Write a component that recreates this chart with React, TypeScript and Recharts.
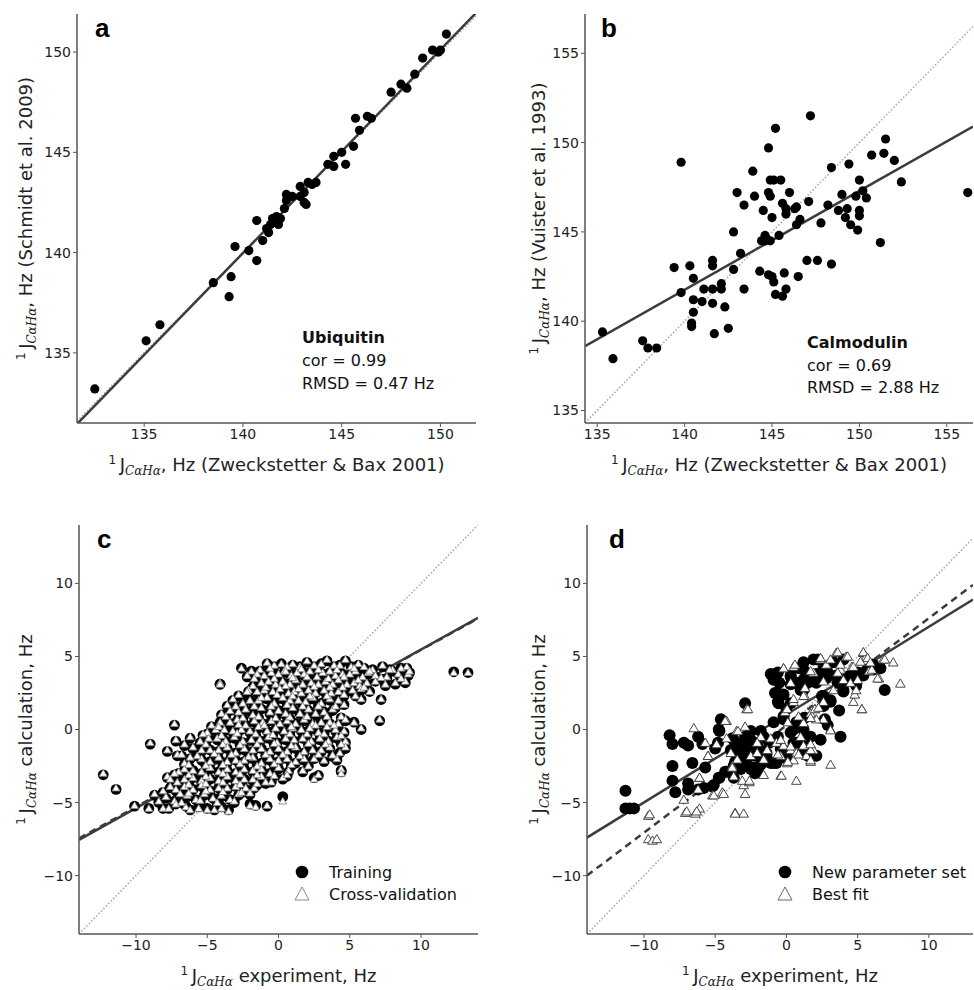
import React from 'react'
import { ScatterChart, Scatter, XAxis, YAxis, ReferenceLine } from 'recharts'

// ---- panel a: Ubiquitin, Schmidt 2009 vs Zweckstetter & Bax 2001
const aTicks = [135, 140, 145, 150]
const aPoints: [number, number][] = [
  [132.5, 133.2], [135.1, 135.6], [135.8, 136.4], [138.5, 138.5], [139.3, 137.8], [139.4, 138.8],
  [139.6, 140.3], [140.3, 140.1], [140.7, 139.6], [140.7, 141.6], [141.0, 140.6], [141.2, 141.2],
  [141.3, 141.0], [141.4, 141.4], [141.5, 141.7], [141.6, 141.5], [141.7, 141.8], [141.8, 141.4],
  [141.9, 141.7], [142.1, 142.2], [142.2, 142.6], [142.2, 142.9], [142.5, 142.8], [142.9, 142.8],
  [142.9, 143.3], [143.1, 142.5], [143.2, 142.4], [143.1, 143.0], [143.3, 143.5], [143.5, 143.4],
  [143.7, 143.5], [144.3, 144.4], [144.6, 144.8], [144.6, 144.3], [145.0, 145.0], [145.2, 144.4],
  [145.6, 145.3], [145.7, 146.7], [145.9, 146.1], [146.3, 146.8], [146.5, 146.7], [147.5, 148.0],
  [148.0, 148.4], [148.3, 148.2], [148.7, 148.9], [149.1, 149.7], [149.6, 150.1], [149.9, 150.0],
  [150.0, 150.1], [150.3, 150.9],
]
const aFit: [number, number][] = [[131.6, 131.45], [151.8, 151.95]]
const aDiag: [number, number][] = [[131.6, 131.6], [151.8, 151.8]]

// ---- panel b: Calmodulin, Vuister 1993 vs Zweckstetter & Bax 2001
const bTicks = [135, 140, 145, 150, 155]
const bPoints: [number, number][] = [
  [135.3, 139.4], [135.9, 137.9], [137.6, 138.9], [137.9, 138.5], [138.4, 138.5], [139.4, 143.0],
  [139.8, 148.9], [139.8, 141.6], [140.3, 143.1], [140.5, 142.4], [140.5, 141.2], [140.5, 140.5],
  [140.4, 139.9], [140.4, 139.7], [141.0, 141.1], [141.1, 141.8], [141.6, 143.4], [141.6, 143.1],
  [141.6, 141.8], [141.6, 141.0], [141.7, 139.3], [142.1, 142.1], [142.1, 141.8], [142.3, 140.8],
  [142.5, 139.6], [142.8, 142.9], [142.8, 145.0], [143.0, 147.2], [143.2, 143.8], [143.4, 146.5],
  [143.4, 141.8], [143.9, 148.4], [144.0, 147.0], [144.3, 142.8], [144.5, 146.2], [144.4, 144.5],
  [144.6, 144.8], [144.6, 144.5], [144.7, 144.6], [144.8, 147.2], [144.8, 149.7], [144.9, 147.9],
  [144.9, 147.0], [144.8, 142.6], [144.9, 144.5], [145.0, 145.8], [145.0, 142.5], [145.1, 142.2],
  [145.1, 147.9], [145.2, 150.8], [145.2, 141.5], [145.4, 144.8], [145.5, 147.9], [145.6, 146.6],
  [145.6, 141.4], [145.7, 142.7], [145.8, 146.3], [145.8, 146.0], [145.8, 141.8], [146.0, 147.2],
  [146.3, 146.3], [146.4, 146.4], [146.4, 145.4], [146.5, 142.5], [146.6, 145.7], [147.0, 143.4],
  [147.1, 146.7], [147.2, 151.5], [147.6, 143.4], [147.8, 145.5], [148.2, 146.5], [148.4, 148.6],
  [148.4, 143.2], [148.8, 146.2], [149.0, 147.1], [149.2, 145.8], [149.3, 146.3], [149.4, 148.8],
  [149.5, 145.4], [149.8, 147.0], [149.9, 145.1], [150.0, 147.9], [150.0, 146.2], [150.0, 145.9],
  [150.2, 147.3], [150.4, 146.9], [150.7, 149.3], [151.2, 144.4], [151.4, 149.4], [151.5, 150.2],
  [152.0, 149.0], [152.4, 147.8], [156.2, 147.2],
]
const bFit: [number, number][] = [[134.3, 138.6], [156.5, 150.9]]
const bDiag: [number, number][] = [[134.3, 134.3], [156.5, 156.5]]

// ---- panel c: [experiment, training calc, cross-validation calc]
const cdTicks = [-10, -5, 0, 5, 10]
const cResidues: [number, number, number][] = [
  [-1.3, 4.0, 4.1], [-0.8, 4.5, 4.6], [-0.3, 4.3, 4.4], [0.2, 4.5, 4.5], [0.6, 4.2, 4.3], [1.0, 4.4, 4.5],
  [1.5, 4.3, 4.3], [2.0, 4.6, 4.7], [2.5, 4.3, 4.4], [3.0, 4.5, 4.5], [3.4, 4.7, 4.8], [3.9, 4.3, 4.4],
  [4.3, 4.4, 4.4], [4.7, 4.7, 4.8], [5.1, 4.3, 4.3], [5.6, 4.4, 4.5], [6.0, 4.2, 4.3], [6.6, 4.1, 4.1],
  [7.3, 4.3, 4.4], [8.0, 4.0, 4.1], [8.6, 4.2, 4.2], [9.0, 4.2, 4.3], [-2.6, 4.2, 4.2], [-1.9, 4.0, 4.0],
  [-1.5, 3.7, 3.8], [-1.0, 3.6, 3.7], [-0.5, 3.9, 3.9], [0.0, 3.7, 3.8], [0.4, 3.9, 4.0], [0.9, 3.6, 3.7],
  [1.3, 3.9, 3.9], [1.8, 3.7, 3.8], [2.2, 3.9, 4.0], [2.7, 3.6, 3.6], [3.1, 3.8, 3.9], [3.6, 3.9, 4.0],
  [4.0, 3.6, 3.7], [4.5, 3.8, 3.8], [5.0, 3.7, 3.8], [5.4, 3.9, 4.0], [5.9, 3.6, 3.6], [6.3, 3.8, 3.9],
  [6.8, 3.6, 3.7], [7.6, 3.5, 3.6], [8.4, 3.8, 3.8], [9.1, 3.7, 3.8], [-2.2, 3.6, 3.7],
  [-1.2, 3.1, 3.2], [-0.7, 3.3, 3.3], [-0.2, 3.0, 3.1], [0.3, 3.2, 3.3], [0.8, 3.1, 3.1], [1.2, 3.3, 3.4],
  [1.7, 3.0, 3.1], [2.3, 3.2, 3.2], [2.8, 3.0, 3.1], [3.3, 3.2, 3.3], [3.8, 3.1, 3.1], [4.2, 3.3, 3.4],
  [4.8, 3.0, 3.1], [5.3, 3.2, 3.2], [5.7, 2.9, 3.0], [6.2, 3.1, 3.2], [6.8, 3.3, 3.3], [8.2, 3.1, 3.2],
  [8.9, 3.2, 3.3], [-4.1, 3.1, 3.2],
  [-2.1, 2.6, 2.7], [-1.5, 2.5, 2.6], [-1.0, 2.7, 2.7], [-0.4, 2.5, 2.6], [0.1, 2.7, 2.8], [0.7, 2.4, 2.5],
  [1.1, 2.6, 2.6], [1.6, 2.4, 2.5], [2.1, 2.6, 2.7], [2.6, 2.5, 2.5], [3.2, 2.6, 2.7], [3.7, 2.4, 2.5],
  [4.2, 2.6, 2.6], [5.2, 2.6, 2.7], [5.8, 2.7, 2.8], [6.4, 2.6, 2.6], [-2.2, 2.2, 2.6],
  [-3.6, 1.6, 1.7], [-3.2, 2.0, 2.1], [-2.5, 1.7, 1.8], [-2.0, 2.0, 2.0], [-1.4, 1.9, 2.0], [-0.8, 2.1, 2.2],
  [-0.3, 1.8, 1.8], [0.3, 2.1, 2.2], [0.8, 1.9, 2.0], [1.4, 2.0, 2.0], [1.9, 1.8, 1.9], [2.4, 2.1, 2.2],
  [3.0, 1.8, 1.8], [3.6, 2.0, 2.1], [4.2, 1.9, 2.0], [4.6, 1.7, 1.7], [5.8, 2.05, 2.1], [7.2, 2.05, 2.1],
  [-4.0, 1.0, 1.1], [-3.4, 1.3, 1.3], [-2.8, 1.1, 1.2], [-2.3, 1.3, 1.4], [-1.8, 1.0, 1.0], [-1.2, 1.4, 1.5],
  [-0.6, 1.1, 1.2], [0.0, 1.3, 1.3], [0.5, 1.0, 1.1], [1.0, 1.4, 1.5], [1.5, 1.1, 1.1], [2.1, 1.3, 1.4],
  [2.6, 1.0, 1.1], [3.2, 1.2, 1.2], [3.8, 1.3, 1.4], [4.4, 0.8, 0.9],
  [-4.7, 0.2, 0.3], [-4.1, 0.5, 0.5], [-3.4, 0.4, 0.5], [-2.9, 0.6, 0.7], [-2.3, 0.3, 0.3], [-1.7, 0.5, 0.6],
  [-1.1, 0.4, 0.5], [-0.5, 0.6, 0.6], [0.1, 0.3, 0.4], [0.6, 0.5, 0.6], [1.2, 0.4, 0.4], [1.8, 0.6, 0.7],
  [2.4, 0.3, 0.4], [3.0, 0.5, 0.5], [3.6, 0.4, 0.5], [4.2, 0.3, 0.4], [5.3, 0.5, 0.5], [7.1, 0.6, 0.7],
  [-7.3, 0.3, 0.4],
  [-5.0, -0.3, -0.2], [-4.4, -0.1, 0.0], [-3.8, -0.1, 0.0], [-3.2, -0.2, -0.1], [-2.6, 0.0, 0.0], [-2.0, -0.2, -0.1],
  [-1.4, 0.1, 0.2], [-0.8, -0.1, -0.1], [-0.2, 0.0, 0.1], [0.4, -0.2, -0.1], [1.0, 0.1, 0.1], [1.6, -0.1, 0.0],
  [2.2, 0.0, 0.1], [2.8, -0.2, -0.2], [3.4, 0.1, 0.2], [4.0, -0.1, 0.0], [4.6, -0.2, -0.1], [5.8, 0.0, 0.1],
  [-9.0, -1.0, -0.9], [-6.2, -0.6, -0.5], [-5.5, -0.9, -0.8], [-4.9, -0.6, -0.6], [-4.3, -0.7, -0.6], [-3.7, -0.8, -0.8],
  [-3.1, -0.6, -0.5], [-2.5, -0.9, -0.8], [-1.9, -0.7, -0.7], [-1.3, -0.8, -0.7], [-0.7, -0.6, -0.5], [-0.1, -0.9, -0.9],
  [0.5, -0.7, -0.6], [1.1, -0.8, -0.7], [1.7, -0.6, -0.6], [2.3, -0.9, -0.8], [2.9, -0.7, -0.6], [3.5, -0.8, -0.8],
  [4.1, -0.6, -0.5], [4.7, -0.9, -0.8], [-7.2, -0.8, -0.7],
  [-7.8, -1.5, -1.4], [-6.0, -1.3, -1.2], [-5.4, -1.5, -1.4], [-4.8, -1.4, -1.4], [-4.2, -1.5, -1.4], [-3.6, -1.3, -1.2],
  [-3.0, -1.6, -1.6], [-2.4, -1.4, -1.3], [-1.8, -1.5, -1.4], [-1.2, -1.3, -1.3], [-0.6, -1.6, -1.5], [0.0, -1.4, -1.3],
  [0.6, -1.5, -1.5], [1.2, -1.3, -1.2], [1.8, -1.6, -1.5], [2.4, -1.4, -1.4], [3.0, -1.5, -1.4], [3.6, -1.3, -1.2],
  [4.3, -1.6, -1.6], [4.7, -1.3, -1.2],
  [-7.1, -1.8, -1.7], [-6.6, -2.4, -2.3], [-6.2, -2.0, -1.9], [-5.4, -2.1, -2.0], [-4.8, -2.2, -2.2], [-4.2, -2.0, -1.9],
  [-3.6, -2.3, -2.2], [-3.0, -2.1, -2.1], [-2.4, -2.2, -2.1], [-1.8, -2.0, -1.9], [-1.2, -2.3, -2.3], [-0.6, -2.1, -2.0],
  [0.0, -2.2, -2.1], [0.6, -2.0, -2.0], [1.2, -2.3, -2.2], [1.8, -2.1, -2.0], [2.5, -2.0, -2.0], [3.2, -2.2, -2.1],
  [4.1, -2.1, -2.0],
  [-7.0, -3.0, -2.9], [-6.6, -2.8, -2.7], [-6.0, -2.8, -2.8], [-5.4, -3.0, -2.9], [-4.8, -2.7, -2.6], [-4.2, -2.9, -2.9],
  [-3.6, -2.8, -2.7], [-3.0, -3.0, -2.9], [-2.4, -2.7, -2.7], [-1.8, -2.9, -2.8], [-1.2, -2.8, -2.7], [-0.6, -3.0, -3.0],
  [0.0, -2.7, -2.6], [0.7, -2.9, -2.8], [1.7, -2.9, -2.8], [4.4, -2.8, -2.7], [4.4, -2.9, -3.0],
  [-7.8, -3.3, -3.2], [-7.6, -3.4, -3.4], [-6.6, -3.5, -3.4], [-6.0, -3.3, -3.3], [-5.4, -3.6, -3.5], [-4.8, -3.4, -3.3],
  [-4.2, -3.5, -3.5], [-3.6, -3.3, -3.2], [-3.0, -3.6, -3.5], [-2.4, -3.4, -3.4], [-1.8, -3.5, -3.4], [-1.2, -3.3, -3.2],
  [-0.5, -3.6, -3.6], [0.3, -3.4, -3.3], [2.5, -3.3, -3.4], [2.8, -3.15, -3.1], [-12.3, -3.1, -3.0],
  [-11.4, -4.1, -4.0], [-7.6, -4.0, -3.9], [-7.2, -4.2, -4.1], [-6.9, -4.4, -4.4], [-6.6, -4.0, -3.9], [-6.0, -4.1, -4.1],
  [-5.4, -3.9, -3.8], [-4.8, -4.2, -4.1], [-4.2, -4.0, -4.0], [-3.6, -4.1, -4.0], [-3.0, -3.9, -3.9], [-2.3, -4.1, -4.0],
  [-1.7, -4.0, -4.0],
  [-8.7, -4.5, -4.4], [-7.9, -4.7, -4.6], [-7.3, -4.9, -4.9], [-6.4, -4.6, -4.5], [-5.8, -4.8, -4.8], [-5.2, -4.5, -4.4],
  [-4.6, -4.7, -4.7], [-4.0, -4.6, -4.5], [-3.4, -4.8, -4.8], [-2.8, -4.5, -4.4], [0.3, -4.6, -4.9],
  [-10.1, -5.25, -5.2], [-9.1, -5.4, -5.4], [-8.1, -5.4, -5.4], [-7.7, -5.4, -5.4], [-7.2, -5.1, -5.1], [-6.5, -5.25, -5.3],
  [-6.2, -5.5, -5.5], [-5.6, -5.3, -5.4], [-5.0, -5.4, -5.5], [-4.5, -5.5, -5.5], [-4.0, -5.3, -5.4], [-3.5, -5.5, -5.6],
  [-2.0, -5.1, -5.2], [-1.6, -5.2, -5.3], [-0.8, -5.25, -5.2],
  [12.3, 3.95, 3.9], [13.3, 3.9, 3.9], [9.2, 3.9, 4.0], [-4.1, 3.1, 3.1],
  // residues between the denser rows
  [-0.6, 4.1, 4.2], [0.5, 4.0, 4.0], [1.6, 4.05, 4.15], [2.8, 4.1, 4.1], [4.1, 4.0, 4.1], [5.3, 4.1, 4.2],
  [6.4, 3.95, 4.0], [7.8, 4.1, 4.1], [-1.7, 3.4, 3.5], [-0.3, 3.5, 3.5], [1.0, 3.45, 3.55], [2.0, 3.5, 3.6],
  [3.5, 3.45, 3.5], [4.6, 3.5, 3.6], [5.6, 3.4, 3.4], [7.2, 3.45, 3.55], [8.6, 3.5, 3.5], [-1.8, 2.9, 3.0],
  [-0.9, 2.85, 2.9], [0.5, 2.9, 3.0], [1.4, 2.8, 2.8], [2.5, 2.85, 2.95], [3.6, 2.9, 2.9], [4.5, 2.8, 2.9],
  [6.0, 2.85, 2.9], [7.5, 3.0, 3.1], [-2.8, 2.3, 2.4], [-1.2, 2.2, 2.2], [-0.1, 2.3, 2.4], [1.0, 2.25, 2.3],
  [2.2, 2.3, 2.3], [3.4, 2.2, 2.3], [4.6, 2.3, 2.4], [5.4, 2.3, 2.3], [-3.0, 1.5, 1.6], [-1.7, 1.6, 1.6],
  [-0.5, 1.5, 1.6], [0.6, 1.6, 1.7], [1.7, 1.55, 1.6], [2.8, 1.6, 1.6], [4.0, 1.5, 1.6], [-3.7, 0.8, 0.9],
  [-2.5, 0.75, 0.8], [-1.4, 0.8, 0.9], [-0.2, 0.8, 0.8], [0.8, 0.75, 0.85], [2.0, 0.8, 0.9], [3.4, 0.85, 0.9],
  [4.7, 0.6, 0.7], [-4.2, 0.2, 0.2], [-2.8, 0.25, 0.35], [-1.0, 0.2, 0.3], [0.9, 0.2, 0.2], [2.6, 0.25, 0.3],
  [3.9, 0.2, 0.3], [-5.3, -0.4, -0.3], [-4.0, -0.4, -0.4], [-2.9, -0.35, -0.25], [-1.6, -0.4, -0.3],
  [-0.4, -0.35, -0.35], [0.8, -0.4, -0.3], [2.0, -0.4, -0.3], [3.2, -0.35, -0.3], [4.4, -0.4, -0.4],
  [-6.6, -1.1, -1.0], [-5.1, -1.05, -1.0], [-3.9, -1.1, -1.0], [-2.7, -1.05, -1.05], [-1.5, -1.1, -1.0],
  [-0.3, -1.05, -0.95], [0.9, -1.1, -1.1], [2.1, -1.05, -0.95], [3.3, -1.1, -1.0], [4.4, -1.0, -1.0],
  [-6.8, -1.8, -1.7], [-5.7, -1.8, -1.8], [-4.5, -1.75, -1.65], [-3.3, -1.8, -1.7], [-2.1, -1.85, -1.85],
  [-0.9, -1.8, -1.7], [0.3, -1.75, -1.7], [1.5, -1.8, -1.8], [2.8, -1.8, -1.7], [3.8, -1.85, -1.75],
  [-6.3, -2.5, -2.4], [-5.1, -2.45, -2.45], [-3.9, -2.5, -2.4], [-2.7, -2.45, -2.35], [-1.5, -2.5, -2.5],
  [-0.3, -2.45, -2.35], [0.9, -2.5, -2.4], [2.1, -2.5, -2.5], [-7.3, -3.1, -3.0], [-6.3, -3.15, -3.1],
  [-5.1, -3.2, -3.2], [-3.9, -3.1, -3.0], [-2.7, -3.15, -3.05], [-1.5, -3.2, -3.1], [-0.3, -3.15, -3.15],
  [0.6, -3.2, -3.1], [-7.1, -3.7, -3.6], [-6.3, -3.75, -3.75], [-5.1, -3.8, -3.7], [-3.9, -3.7, -3.6],
  [-2.7, -3.75, -3.75], [-1.5, -3.8, -3.7], [-0.9, -3.7, -3.6], [-8.1, -4.3, -4.2], [-6.3, -4.35, -4.35],
  [-5.1, -4.3, -4.2], [-3.9, -4.35, -4.25], [-2.6, -4.3, -4.3], [-2.0, -4.45, -4.35], [-8.4, -5.0, -4.9],
  [-6.8, -5.0, -5.0], [-5.5, -4.95, -4.85], [-4.3, -5.05, -5.0], [-3.1, -5.0, -4.9],
]
const cFit: [number, number][] = [[-14, -7.55], [14, 7.65]]
const cFitDash: [number, number][] = [[-14, -7.45], [14, 7.6]]
const cdDiag: [number, number][] = [[-14, -14], [14, 14]]

// ---- panel d: new parameter set vs best fit
const dNewSet: [number, number][] = [
  [-11.3, -4.2], [-11.3, -5.4], [-11.0, -5.4], [-10.7, -5.4], [-8.2, -0.4], [-8.0, -1.0], [-8.0, -2.5], [-8.0, -3.5],
  [-7.8, -4.3], [-7.2, -0.9], [-6.9, -1.1], [-6.6, -2.3], [-6.9, -3.7], [-6.9, -4.1], [-6.2, -0.5], [-5.9, -1.0],
  [-5.7, -2.6], [-5.8, -4.0], [-6.2, -4.1], [-5.2, -3.9], [-5.1, -3.8], [-5.0, -1.3], [-4.8, -0.9], [-4.7, -0.1],
  [-4.6, 0.7], [-4.75, 0.0], [-4.75, -3.3], [-4.7, -3.3], [-4.3, -2.9], [-4.2, -2.9], [-3.7, -3.3], [-3.7, -2.5],
  [-3.7, -0.7], [-3.5, -1.4], [-3.3, -2.1], [-3.2, -2.7], [-3.0, -0.9], [-2.9, 1.8], [-2.8, -1.6], [-2.5, -0.1],
  [-2.4, -2.6], [-2.2, -3.0], [-1.8, -0.1], [-1.6, -1.5], [-1.1, -2.3], [-0.7, -2.3], [-0.4, -1.3], [-0.2, 0.7],
  [0.0, 1.4], [0.3, 1.8], [0.5, 0.0], [0.7, 0.5], [1.2, 0.0], [1.3, 0.8], [2.4, -0.7], [2.5, 2.3], [2.6, 1.6],
  [2.7, 0.7], [2.9, 0.3], [3.1, 2.0], [3.7, 1.3], [3.8, -0.5], [4.0, 2.7], [6.9, 2.7], [6.6, 4.2],
  [-3.8, -0.6], [-3.5, -1.0], [-3.3, -1.6], [-3.0, -1.2], [-2.8, -2.0], [-2.6, -1.4], [-2.4, -0.8], [-2.2, -1.8],
  [-2.0, -1.2], [-1.8, -2.4], [-1.6, -0.5], [-3.6, -2.2], [-3.1, -2.5], [-2.5, -2.7], [-2.0, -2.9], [-1.4, -1.6],
  [-1.2, -0.9], [-3.9, -1.4], [-2.9, -0.5], [-1.7, -2.0], [-0.2, -1.4], [0.3, -1.8], [0.7, -0.9], [1.2, -1.4],
  [1.7, -0.5], [2.1, -1.8], [-1.4, -1.8],
  [-1.1, 3.8], [-0.9, 3.4], [-0.8, 2.5], [-0.6, 1.9], [-0.7, 3.8], [-0.5, 3.2], [0.3, 3.7], [0.9, 4.2], [1.2, 3.4],
  [1.9, 4.8], [1.4, 3.8], [2.1, 3.2], [2.6, 4.2], [3.3, 4.6], [4.0, 4.8], [4.5, 3.7], [4.9, 3.0], [5.9, 4.1],
  [0.7, 3.2], [1.2, 2.7], [1.7, 3.3], [2.1, 3.8], [2.8, 3.5], [3.5, 3.7], [4.0, 3.2], [4.7, 3.3], [5.4, 3.7],
  [6.1, 4.1], [-0.6, 3.9], [0.3, 3.6], [1.2, 4.1], [1.5, 3.2], [2.2, 3.6], [2.9, 3.9], [3.6, 3.2], [4.3, 3.6],
  [5.0, 3.9], [5.7, 4.1], [6.1, 4.45], [2.2, 4.8], [1.2, 4.6], [4.0, 2.6], [0.3, 3.1], [1.0, 2.7],
  [2.6, 2.3], [3.1, 1.9], [-0.6, 2.5], [-0.2, 2.4], [-0.55, 1.8],
  [-0.9, 0.5], [-0.2, 0.9], [-0.6, -0.5], [0.3, -0.2], [1.1, 0.1], [1.2, -0.7], [-0.3, -1.4], [0.5, -0.9],
  [1.5, -1.8], [-0.9, -2.3], [-0.2, -1.9],
]
const dBestFit: [number, number][] = [
  [-9.7, -5.9], [-9.7, -7.5], [-9.4, -7.6], [-9.1, -7.5], [-7.2, -4.8], [-7.1, -5.7], [-6.4, -5.75], [-6.1, -5.4],
  [-6.2, -4.1], [-6.1, -3.3], [-6.5, 0.1], [-5.7, -0.9], [-5.5, -1.8], [-5.2, -4.5], [-4.9, -1.0], [-4.5, -4.3],
  [-4.2, 0.6], [-4.2, -0.6], [-3.9, -1.6], [-3.7, -3.2], [-3.6, -5.7], [-3.0, -5.75], [-3.0, -3.8], [-2.9, -4.4],
  [-2.6, -3.6], [-2.8, 1.4], [-3.5, -0.1], [-2.9, 0.2], [-1.8, -0.5], [-1.6, -3.1], [-0.4, -3.15], [0.7, -3.5],
  [0.1, 0.5], [-0.1, 1.2], [0.5, 1.9], [1.3, 2.3], [0.5, 4.3], [-0.2, 4.2], [0.3, 3.2], [1.7, -2.2], [3.1, -2.4],
  [3.1, 0.0], [2.6, 0.7], [2.0, 1.4], [5.3, 1.4], [4.7, 1.9], [4.8, 2.4], [4.9, 2.7], [3.5, 5.25], [4.2, 5.0],
  [5.4, 5.25], [5.6, 5.0], [6.5, 3.5], [7.5, 4.6], [8.0, 3.15], [6.8, 4.8], [2.4, 4.8], [2.8, 4.45], [1.9, 3.9],
  [1.3, 2.85], [3.3, 2.7], [3.8, 4.1], [5.8, 4.0], [6.0, 4.1], [4.6, 4.3], [4.0, 3.4], [-1.1, -0.6], [-0.7, -0.9],
  [-0.2, -1.1], [0.3, -1.4], [0.7, -1.6], [1.2, -1.1], [1.0, -0.5], [1.4, -1.8], [1.9, -1.4], [0.5, -2.1],
  [0.05, -2.3], [-0.4, -1.8], [-1.35, -1.4], [-2.05, -0.9], [-2.5, -1.8], [-2.05, -1.6], [-1.6, -2.05],
  [-3.45, -2.05], [-3.8, -2.5], [2.1, 0.7], [1.7, 1.1], [1.2, 0.45], [-5.5, -1.8], [-3.8, -2.6], [-3.4, -0.1],
  [-2.7, 1.4], [-5.1, -4.5], [-4.4, -4.4], [-3.6, -5.75], [-3.1, -3.5], [-2.6, -3.5], [-7.0, -5.6], [-6.3, -5.6],
  [-9.6, -5.8], [-6.1, -3.3], [-4.3, 0.6], [6.4, 3.5], [6.9, 4.8], [5.3, 1.4], [3.1, -0.05], [1.7, -2.1],
  [-0.35, -3.15], [0.5, 2.1], [1.2, 2.3], [2.0, 1.4], [2.6, 1.9], [0.05, 1.4], [0.85, 0.9], [1.7, 0.8],
  [2.25, 1.5], [3.6, 5.3], [4.3, 5.0], [2.4, 4.9], [3.1, 4.8], [5.4, 5.3], [5.7, 4.9], [5.2, 4.65], [5.9, 4.6],
  [3.8, 4.45], [4.7, 4.3], [-0.2, 4.2], [0.6, 4.45], [1.7, 4.0], [2.6, 3.3], [3.6, 3.9], [4.5, 3.2], [5.0, 3.4],
  [-0.4, -0.7], [0.3, -1.15], [1.0, -0.5], [1.7, -1.4], [-0.6, -1.7], [0.1, -2.2], [0.85, -1.7], [1.7, -1.0],
]
const dFit: [number, number][] = [[-14, -7.4], [13.1, 8.9]]
const dFitDash: [number, number][] = [[-14, -10.0], [13.1, 9.9]]
const dDiag: [number, number][] = [[-14, -14], [13.1, 13.1]]

const FONT = "'DejaVu Sans', Verdana, sans-serif"
const AXIS = '#555'
const FIT = '#3c3c3c'
const DIAG = '#aaaaaa'

const toXY = (arr: [number, number][]) => arr.map(([x, y]) => ({ x, y }))
const minus = (v: number) => (v < 0 ? `\u2212${-v}` : `${v}`)

const dot = (r: number) => (p: any) => <circle cx={p.cx} cy={p.cy} r={r} fill="#000" />
const tri = (r: number, stroke: string) => (p: any) => (
  <polygon
    points={`${p.cx},${p.cy - r} ${p.cx - r * 1.05},${p.cy + r * 0.8} ${p.cx + r * 1.05},${p.cy + r * 0.8}`}
    fill="#fff"
    stroke={stroke}
    strokeWidth={0.9}
  />
)

// label like: ¹ J_{CαHα}<tail>
function JLabel({ x, y, tail, rotate }: { x: number; y: number; tail: string; rotate?: boolean }) {
  return (
    <text
      x={x}
      y={y}
      textAnchor="middle"
      fontFamily={FONT}
      fontSize={18}
      fill="#222"
      transform={rotate ? `rotate(-90 ${x} ${y})` : undefined}
    >
      <tspan fontSize={12} dy={-7}>1</tspan>
      <tspan dy={7}>{'\u2009J'}</tspan>
      <tspan fontFamily="'DejaVu Serif', serif" fontStyle="italic" fontSize={12} dy={4}>CαHα</tspan>
      <tspan dy={-4}>{tail}</tspan>
    </text>
  )
}

const xTitle = (tail: string) => (p: any) => {
  const vb = p.viewBox
  return <JLabel x={vb.x + vb.width / 2} y={vb.y + 48} tail={tail} />
}
const yTitle = (tail: string, dx: number) => (p: any) => {
  const vb = p.viewBox
  return <JLabel x={vb.x + dx} y={vb.y + vb.height / 2} tail={tail} rotate />
}

const axisCommon = {
  type: 'number' as const,
  allowDataOverflow: true,
  axisLine: { stroke: AXIS, strokeWidth: 1.5 },
  tickLine: { stroke: AXIS, strokeWidth: 1 },
  tickSize: 4,
  tickMargin: 2,
  tick: { fontSize: 14, fill: '#222', fontFamily: FONT },
  tickFormatter: minus,
}

const fitLine = (pts: [number, number][], dashed?: boolean) => (
  <ReferenceLine
    segment={toXY(pts)}
    stroke={FIT}
    strokeWidth={2.5}
    strokeDasharray={dashed ? '7 5' : undefined}
    ifOverflow="hidden"
  />
)
const diagLine = (pts: [number, number][]) => (
  <ReferenceLine segment={toXY(pts)} stroke={DIAG} strokeWidth={1.6} strokeDasharray="1.5 2" ifOverflow="hidden" />
)

const cTraining = cResidues.map(([x, t]) => ({ x, y: t }))
const cCross = cResidues.map(([x, , cv]) => ({ x, y: cv }))

export default function App() {
  return (
    <div style={{ position: 'absolute', left: 0, top: 0, width: 974, height: 990, background: '#fff' }}>
      {/* a */}
      <div style={{ position: 'absolute', left: 0, top: 0 }}>
        <ScatterChart width={490} height={490} margin={{ top: 14, right: 14, bottom: 0, left: 0 }}>
          <XAxis {...axisCommon} dataKey="x" domain={[131.6, 151.8]} ticks={aTicks} height={67}
            label={xTitle(', Hz (Zweckstetter & Bax 2001)')} />
          <YAxis {...axisCommon} dataKey="y" domain={[131.5, 151.9]} ticks={aTicks} width={77}
            label={yTitle(', Hz (Schmidt et al. 2009)', 32)} />
          {diagLine(aDiag)}
          <Scatter data={toXY(aPoints)} shape={dot(4.6)} isAnimationActive={false} />
          {fitLine(aFit)}
        </ScatterChart>
      </div>
      {/* b */}
      <div style={{ position: 'absolute', left: 500, top: 0 }}>
        <ScatterChart width={474} height={490} margin={{ top: 14, right: 1, bottom: 0, left: 0 }}>
          <XAxis {...axisCommon} dataKey="x" domain={[134.3, 156.5]} ticks={bTicks} height={67}
            label={xTitle(', Hz (Zweckstetter & Bax 2001)')} />
          <YAxis {...axisCommon} dataKey="y" domain={[134.3, 157.2]} ticks={bTicks} width={85}
            label={yTitle(', Hz (Vuister et al. 1993)', 45)} />
          {diagLine(bDiag)}
          <Scatter data={toXY(bPoints)} shape={dot(4.6)} isAnimationActive={false} />
          {fitLine(bFit)}
        </ScatterChart>
      </div>
      {/* c */}
      <div style={{ position: 'absolute', left: 0, top: 490 }}>
        <ScatterChart width={490} height={500} margin={{ top: 35, right: 12, bottom: 0, left: 0 }}>
          <XAxis {...axisCommon} dataKey="x" domain={[-14, 14]} ticks={cdTicks} height={56}
            label={xTitle(' experiment, Hz')} />
          <YAxis {...axisCommon} dataKey="y" domain={[-14, 14]} ticks={cdTicks} width={79}
            label={yTitle(' calculation, Hz', 32)} />
          {diagLine(cdDiag)}
          <Scatter data={cTraining} shape={dot(5.4)} isAnimationActive={false} />
          <Scatter data={cCross} shape={tri(3.7, '#888')} isAnimationActive={false} />
          {fitLine(cFitDash, true)}
          {fitLine(cFit)}
        </ScatterChart>
      </div>
      {/* d */}
      <div style={{ position: 'absolute', left: 500, top: 490 }}>
        <ScatterChart width={474} height={500} margin={{ top: 35, right: 1, bottom: 0, left: 0 }}>
          <XAxis {...axisCommon} dataKey="x" domain={[-14, 13.1]} ticks={cdTicks} height={56}
            label={xTitle(' experiment, Hz')} />
          <YAxis {...axisCommon} dataKey="y" domain={[-14, 14]} ticks={cdTicks} width={87}
            label={yTitle(' calculation, Hz', 45)} />
          {diagLine(dDiag)}
          <Scatter data={toXY(dNewSet)} shape={dot(6)} isAnimationActive={false} />
          <Scatter data={toXY(dBestFit)} shape={tri(4.6, '#333')} isAnimationActive={false} />
          {fitLine(dFitDash, true)}
          {fitLine(dFit)}
        </ScatterChart>
      </div>

      {/* panel letters, annotations, legends */}
      <svg width={974} height={990} style={{ position: 'absolute', left: 0, top: 0, pointerEvents: 'none' }}>
        <g fontFamily="'Liberation Sans', Arial, sans-serif" fontWeight="bold" fontSize={26} fill="#000">
          <text x={95} y={37}>a</text>
          <text x={601} y={37}>b</text>
          <text x={97} y={548}>c</text>
          <text x={609} y={548}>d</text>
        </g>
        <g fontFamily={FONT} fontSize={16} fill="#111">
          <text x={302} y={343} fontWeight="bold">Ubiquitin</text>
          <text x={302} y={366}>cor = 0.99</text>
          <text x={302} y={389}>RMSD = 0.47 Hz</text>
          <text x={807} y={348} fontWeight="bold">Calmodulin</text>
          <text x={807} y={371}>cor = 0.69</text>
          <text x={807} y={393}>RMSD = 2.88 Hz</text>
        </g>
        <g fontFamily={FONT} fontSize={16} fill="#111">
          <circle cx={302} cy={872} r={6.3} fill="#000" />
          <polygon points="302,887 295,900 309,900" fill="#fff" stroke="#888" strokeWidth={1} />
          <text x={329} y={878}>Training</text>
          <text x={329} y={900}>Cross-validation</text>
          <circle cx={785} cy={872} r={6.3} fill="#000" />
          <polygon points="785,887 778,900 792,900" fill="#fff" stroke="#666" strokeWidth={1} />
          <text x={812} y={878}>New parameter set</text>
          <text x={812} y={900}>Best fit</text>
        </g>
      </svg>
    </div>
  )
}
